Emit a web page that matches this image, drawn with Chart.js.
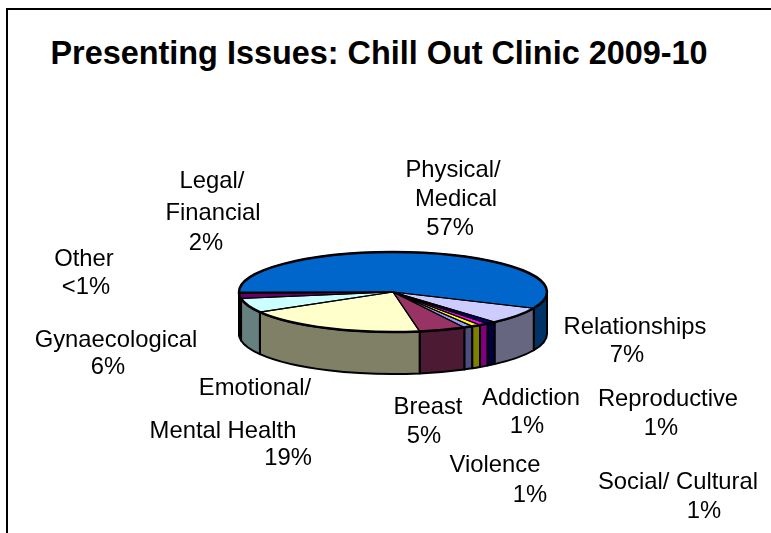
<!DOCTYPE html>
<html>
<head>
<meta charset="utf-8">
<title>Presenting Issues</title>
<script src="https://cdn.jsdelivr.net/npm/chart.js@4/dist/chart.umd.min.js"></script>
<style>
  html, body { margin: 0; padding: 0; background: #fff; overflow: hidden; }
  #frame { position: absolute; left: 6px; top: 8px; width: 800px; height: 600px; border: 2px solid #000; }
  #chartTitle { position: absolute; left: 50.5px; top: 35px; font: bold 32.4px 'Liberation Sans', Arial, sans-serif; color: #000; white-space: nowrap; }
  canvas { position: absolute; left: 0; top: 0; }
</style>
</head>
<body>
<div id="frame"></div>
<div id="chartTitle">Presenting Issues: Chill Out Clinic 2009-10</div>
<canvas id="pie" width="771" height="533"></canvas>
<script>
// ── Data, clockwise from the Addiction slice ──────────────────────────────────
const categories = ['Addiction', 'Breast', 'Emotional/ Mental Health', 'Gynaecological', 'Legal/ Financial', 'Other',
  'Physical/ Medical', 'Relationships', 'Reproductive', 'Social/ Cultural', 'Violence'];
const values = [0.95, 4.9, 19.4, 5.8, 2, 0.5, 56.8, 6.9, 0.95, 0.95, 0.95];

const topColors  = ['#9999FF', '#993366', '#FFFFCC', '#CCFFFF', '#660066', '#FF8080', '#0066CC', '#CCCCFF', '#000080', '#FF00FF', '#FFFF00'];
const sideColors = ['#4D4D80', '#4D1A33', '#808066', '#668080', '#330033', '#804040', '#003366', '#666680', '#000040', '#800080', '#808000'];

// ── Label text and where it sits ──────────────────────────────────────────────
const LABELS = [
  { t: 'Physical/', x: 453, y: 170 }, { t: 'Medical', x: 456, y: 199 }, { t: '57%', x: 450, y: 228 },
  { t: 'Legal/', x: 212, y: 181 }, { t: 'Financial', x: 213, y: 213 }, { t: '2%', x: 206, y: 243 },
  { t: 'Other', x: 84, y: 259 }, { t: '<1%', x: 86, y: 287 },
  { t: 'Gynaecological', x: 116, y: 340 }, { t: '6%', x: 108, y: 367 },
  { t: 'Relationships', x: 635, y: 327 }, { t: '7%', x: 627, y: 355 },
  { t: 'Emotional/', x: 255, y: 388 }, { t: 'Mental Health', x: 223, y: 431 }, { t: '19%', x: 288, y: 458 },
  { t: 'Breast', x: 428, y: 407 }, { t: '5%', x: 424, y: 436 },
  { t: 'Addiction', x: 531, y: 398 }, { t: '1%', x: 527, y: 426 },
  { t: 'Reproductive', x: 668, y: 399 }, { t: '1%', x: 661, y: 428 },
  { t: 'Violence', x: 495, y: 465 }, { t: '1%', x: 530, y: 495 },
  { t: 'Social/ Cultural', x: 678, y: 482 }, { t: '1%', x: 704, y: 511 },
];

const SQUASH = 0.26;   // tilt of the pie
const DEPTH  = 42;     // height of the wall

// ── Fake 3D: squash the library's arcs and build the walls from their angles ──
const tiltPlugin = {
  id: 'tilt',
  beforeDatasetsDraw(chart) {
    const ctx = chart.ctx;
    ctx.save();
    ctx.lineWidth = 2;
    ctx.strokeStyle = '#000';
    ctx.lineJoin = 'round';
    chart.getDatasetMeta(0).data.forEach((arc, i) => {
      const { x, y, startAngle, endAngle, outerRadius } = arc.getProps(['x', 'y', 'startAngle', 'endAngle', 'outerRadius'], true);
      const ry = outerRadius * SQUASH;
      // only the part of the slice on the near side has a wall
      [0, Math.PI * 2, -Math.PI * 2].forEach(shift => {
        const a = Math.max(startAngle + shift, 0);
        const b = Math.min(endAngle + shift, Math.PI);
        if (b <= a) return;
        ctx.beginPath();
        ctx.ellipse(x, y, outerRadius, ry, 0, a, b);
        ctx.ellipse(x, y + DEPTH, outerRadius, ry, 0, b, a, true);
        ctx.closePath();
        ctx.fillStyle = sideColors[i];
        ctx.fill();
        ctx.stroke();
      });
    });
    ctx.restore();
  },
  beforeDatasetDraw(chart) {
    const ctx = chart.ctx;
    const { x, y } = chart.getDatasetMeta(0).data[0];
    ctx.save();
    ctx.translate(x, y);
    ctx.scale(1, SQUASH);
    ctx.translate(-x, -y);
  },
  afterDatasetDraw(chart) {
    chart.ctx.restore();
  },
  afterDatasetsDraw(chart) {
    const ctx = chart.ctx;
    ctx.save();
    ctx.strokeStyle = '#000';
    ctx.lineJoin = 'round';
    chart.getDatasetMeta(0).data.forEach(arc => {
      const { x, y, startAngle, endAngle, outerRadius } = arc.getProps(['x', 'y', 'startAngle', 'endAngle', 'outerRadius'], true);
      const ry = outerRadius * SQUASH;
      // thin spokes so the 1% slices keep their colour, heavier rim
      ctx.lineWidth = 1.2;
      ctx.beginPath();
      ctx.moveTo(x, y);
      ctx.ellipse(x, y, outerRadius, ry, 0, startAngle, endAngle);
      ctx.closePath();
      ctx.stroke();
      ctx.lineWidth = 2.5;
      ctx.beginPath();
      ctx.ellipse(x, y, outerRadius, ry, 0, startAngle, endAngle);
      ctx.stroke();
    });
    ctx.fillStyle = '#000';
    ctx.font = "23.8px 'Liberation Sans', Arial, sans-serif";
    ctx.textAlign = 'center';
    ctx.textBaseline = 'middle';
    LABELS.forEach(l => ctx.fillText(l.t, l.x, l.y));
    ctx.restore();
  },
};

new Chart(document.getElementById('pie').getContext('2d'), {
  type: 'pie',
  plugins: [tiltPlugin],
  data: {
    labels: categories,
    datasets: [{
      data: values,
      backgroundColor: topColors,
      borderWidth: 0,
    }],
  },
  options: {
    responsive: false,
    animation: false,
    rotation: 149,
    layout: { padding: { left: 239, right: 224, top: 138, bottom: 87 } },
    plugins: {
      legend: { display: false },
      tooltip: { enabled: false },
      title: { display: false },
    },
  },
});
</script>
</body>
</html>
